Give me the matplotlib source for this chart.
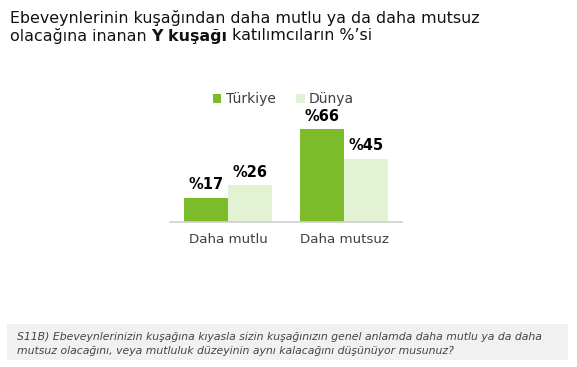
import matplotlib.pyplot as plt
from matplotlib.patches import Rectangle

categories = ["Daha mutlu", "Daha mutsuz"]
series_names = ["Türkiye", "Dünya"]
turkiye = [17, 66]
dunya = [26, 45]
colors = ["#7cbb2a", "#e3f2d3"]

W, H = 577, 367
fig = plt.figure(figsize=(W / 100, H / 100), dpi=100)
fig.patch.set_facecolor("white")

def fx(px):
    return px / W

def fy(py):
    return 1 - py / H

# axes: x 170..402, y 120..222 px
ax = fig.add_axes([fx(170), fy(222), fx(402) - fx(170), (222 - 120) / H])
bw = 0.38
xs = range(len(categories))
for i, vals in enumerate([turkiye, dunya]):
    offs = -bw / 2 if i == 0 else bw / 2
    bars = ax.bar([x + offs for x in xs], vals, width=bw, color=colors[i],
                  label=series_names[i], zorder=2)
    for b, v in zip(bars, vals):
        ax.text(b.get_x() + b.get_width() / 2, v + 4.0, f"%{v}",
                ha="center", va="bottom", fontsize=10.5, fontweight="bold",
                color="black")
ax.set_xlim(-0.5, 1.5)
ax.set_ylim(0, 72.6)
for s in ["top", "right", "left"]:
    ax.spines[s].set_visible(False)
ax.spines["bottom"].set_color("#d0d0d0")
ax.spines["bottom"].set_linewidth(1.2)
ax.set_yticks([])
ax.set_xticks(list(xs))
ax.set_xticklabels(categories, fontsize=9.6, color="#404040")
ax.tick_params(axis="x", length=0, pad=8)

leg = ax.legend(loc="lower left", bbox_to_anchor=(fx(213), fy(106)),
                bbox_transform=fig.transFigure, ncol=2, frameon=False,
                fontsize=10, handlelength=0.6, handleheight=0.6,
                handletextpad=0.3, columnspacing=1.5, borderpad=0,
                borderaxespad=0)
for t in leg.get_texts():
    t.set_color("#404040")

# Title
TS = 11.4
fig.text(fx(10), fy(18), "Ebeveynlerinin kuşağından daha mutlu ya da daha mutsuz",
         fontsize=TS, color="#111111", va="center", ha="left")
t1 = fig.text(fx(10), fy(36), "olacağına inanan ", fontsize=TS,
              color="#111111", va="center", ha="left")
fig.canvas.draw()
r = fig.canvas.get_renderer()
bb = t1.get_window_extent(r)
t2 = fig.text(bb.x1 / W, fy(36), "Y kuşağı", fontsize=TS, fontweight="bold",
              color="#111111", va="center", ha="left")
bb2 = t2.get_window_extent(r)
fig.text(bb2.x1 / W + 4 / W, fy(36), "katılımcıların %’si", fontsize=TS,
         color="#111111", va="center", ha="left")

# Footer box
fig.patches.append(Rectangle((fx(7), fy(360)), fx(568) - fx(7), (360 - 324) / H,
                             transform=fig.transFigure, facecolor="#f1f1f1",
                             edgecolor="none", zorder=0))
FS = 7.8
fig.text(fx(17), fy(337.5),
         "S11B) Ebeveynlerinizin kuşağına kıyasla sizin kuşağınızın genel anlamda daha mutlu ya da daha",
         fontsize=FS, style="italic", color="#444444", va="center", ha="left")
fig.text(fx(17), fy(351),
         "mutsuz olacağını, veya mutluluk düzeyinin aynı kalacağını düşünüyor musunuz?",
         fontsize=FS, style="italic", color="#444444", va="center", ha="left")

fig.savefig("out.png", dpi=100, facecolor="white")
